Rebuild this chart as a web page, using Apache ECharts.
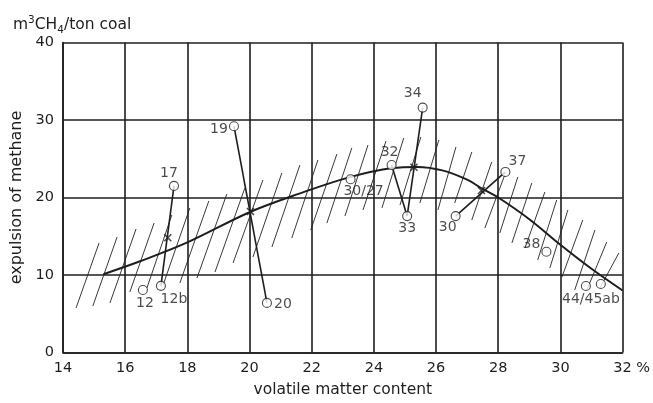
<!DOCTYPE html>
<html>
<head>
<meta charset="utf-8">
<script src="https://cdn.jsdelivr.net/npm/echarts@6/dist/echarts.min.js"></script>
<style>html,body{margin:0;padding:0;background:#fff}#c{width:653px;height:403px}</style>
</head>
<body>
<div id="c"></div>
<script>
// ---- data ----
var xTicks = [14, 16, 18, 20, 22, 24, 26, 28, 30, 32];
var yTicks = [0, 10, 20, 30, 40];

var pointNames = ['12', '12b', '17', '19', '20', '30/27', '32', '33', '34', '30', '37', '38', '44', '45ab'];
var pointX = [16.57, 17.15, 17.57, 19.5, 20.56, 23.25, 24.57, 25.07, 25.57, 26.63, 28.23, 29.55, 30.82, 31.3];
var pointY = [8.06, 8.6, 21.5, 29.2, 6.4, 22.35, 24.2, 17.6, 31.6, 17.6, 23.3, 13.0, 8.58, 8.84];
var pointLabels = ['12', '12b', '17', '19', '20', '30/27', '32', '33', '34', '30', '37', '38', '44/45ab', ''];

// pairs of point names joined by straight lines
var links = [['12b', '17'], ['19', '20'], ['32', '33'], ['33', '34'], ['30', '37']];

var crossX = [17.37, 20.03, 25.29, 27.46];
var crossY = [14.8, 18.2, 23.9, 20.9];

var curveX = [15.3, 16.5, 18, 20, 21.6, 23.2, 24.6, 25.4, 26.2, 27, 27.5, 28, 29, 30, 31, 32];
var curveY = [10.1, 11.8, 14.2, 18.1, 20.5, 22.6, 23.8, 23.95, 23.5, 22.3, 21.1, 20.0, 17.2, 13.9, 10.8, 8.0];

// hatch strokes: [x1, y1, x2, y2]
var hatch = [
  [14.42, 5.74, 15.16, 14.13], [14.96, 6.0, 15.74, 14.9], [15.51, 6.39, 16.35, 15.94],
  [16.15, 7.81, 16.93, 16.71], [16.70, 8.32, 17.50, 17.74], [17.22, 8.71, 18.08, 18.65],
  [17.76, 8.97, 18.69, 19.55], [18.31, 9.61, 19.27, 20.45], [18.89, 10.39, 19.85, 21.23],
  [19.47, 11.55, 20.43, 22.26], [20.11, 12.32, 21.04, 23.16], [20.72, 13.61, 21.62, 24.19],
  [21.36, 14.77, 22.20, 24.84], [21.97, 15.81, 22.81, 25.61], [22.49, 16.71, 23.29, 26.39],
  [23.07, 17.61, 23.81, 26.77], [23.65, 18.39, 24.39, 27.29], [24.26, 18.65, 24.96, 27.68],
  [24.84, 19.03, 25.51, 27.81], [25.48, 19.29, 26.09, 27.42], [26.06, 18.39, 26.64, 26.52],
  [26.60, 19.29, 27.15, 25.87], [27.15, 17.10, 27.79, 24.58], [27.57, 16.06, 28.21, 22.90],
  [28.05, 15.42, 28.63, 22.65], [28.44, 14.13, 29.08, 21.87], [28.86, 13.48, 29.50, 20.71],
  [29.27, 11.94, 29.88, 19.68], [29.66, 10.90, 30.24, 18.39], [30.05, 9.74, 30.72, 17.10],
  [30.46, 8.06, 31.11, 15.81], [30.85, 8.06, 31.49, 14.26], [31.27, 8.32, 31.88, 12.84]
];

// ---- styling (label offsets in px, relative to circle centre) ----
var labelOffsets = {
  '12': [2, 13], '12b': [13, 14], '17': [-5, -13], '19': [-15, 3], '20': [16, 1],
  '30/27': [13, 12], '32': [-2, -13], '33': [0, 12], '34': [-10, -14], '30': [-8, 11],
  '37': [12, -11], '38': [-15, -7], '44': [5, 13], '45ab': [0, 0]
};

var FONT = 'DejaVu Sans, Liberation Sans, sans-serif';
var INK = '#1e1e1e';

function idx(name) { return pointNames.indexOf(name); }

var pointData = pointNames.map(function (n, i) {
  return {
    value: [pointX[i], pointY[i]],
    label: { offset: labelOffsets[n], formatter: pointLabels[i] }
  };
});
var linkData = links.map(function (p) {
  var a = idx(p[0]), b = idx(p[1]);
  return { coords: [[pointX[a], pointY[a]], [pointX[b], pointY[b]]] };
});
var hatchData = hatch.map(function (h) { return { coords: [[h[0], h[1]], [h[2], h[3]]] }; });
var curveData = curveX.map(function (x, i) { return [x, curveY[i]]; });
var crossData = crossX.map(function (x, i) { return [x, crossY[i]]; });

var chart = echarts.init(document.getElementById('c'), null, { renderer: 'canvas' });
chart.setOption({
  animation: false,
  backgroundColor: '#fff',
  title: {
    text: '{n|m}{sup|3}{n|CH}{sub|4}{n|/ton coal}',
    left: 8, top: 9,
    textStyle: {
      fontWeight: 'normal',
      rich: {
        n: { fontSize: 15.5, fontWeight: 'normal', fontFamily: FONT, color: INK, lineHeight: 22, verticalAlign: 'middle' },
        sup: { fontSize: 10.5, fontWeight: 'normal', fontFamily: FONT, color: INK, lineHeight: 22, verticalAlign: 'top', padding: [1, 0, 0, 0] },
        sub: { fontSize: 10.5, fontWeight: 'normal', fontFamily: FONT, color: INK, lineHeight: 22, verticalAlign: 'bottom' }
      }
    }
  },
  grid: { left: 63, right: 30, top: 42.5, bottom: 50.5, containLabel: false },
  xAxis: {
    type: 'value', min: xTicks[0], max: xTicks[xTicks.length - 1], interval: 2,
    name: 'volatile matter content', nameLocation: 'middle', nameGap: 29,
    nameTextStyle: { fontSize: 15.5, fontFamily: FONT, color: INK },
    axisLine: { show: true, lineStyle: { color: INK, width: 1.6 } },
    axisTick: { show: false },
    splitLine: { show: true, lineStyle: { color: INK, width: 1.6 } },
    axisLabel: {
      fontSize: 14.5, fontFamily: FONT, color: INK, margin: 8,
      formatter: function (v) { return v === 32 ? '{p|32 %}' : String(v); },
      rich: { p: { fontSize: 14.5, fontFamily: FONT, color: INK, padding: [0, 0, 0, 18] } }
    }
  },
  yAxis: {
    type: 'value', min: yTicks[0], max: yTicks[yTicks.length - 1], interval: 10,
    name: 'expulsion of methane', nameLocation: 'middle', nameGap: 36,
    nameTextStyle: { fontSize: 16, fontFamily: FONT, color: INK },
    axisLine: { show: true, lineStyle: { color: INK, width: 1.6 } },
    axisTick: { show: false },
    splitLine: { show: true, lineStyle: { color: INK, width: 1.6 } },
    axisLabel: { fontSize: 14.5, fontFamily: FONT, color: INK, margin: 9 }
  },
  series: [
    {
      type: 'lines', coordinateSystem: 'cartesian2d', z: 2, silent: true,
      lineStyle: { color: '#222', width: 0.9, opacity: 1 },
      data: hatchData
    },
    {
      type: 'line', data: curveData, smooth: 0.35, symbol: 'none', z: 3,
      lineStyle: { color: INK, width: 2 }
    },
    {
      type: 'lines', coordinateSystem: 'cartesian2d', z: 4, silent: true,
      lineStyle: { color: INK, width: 1.6, opacity: 1 },
      data: linkData
    },
    {
      type: 'scatter', data: crossData, z: 5,
      symbol: 'path://M0,0L10,10M10,0L0,10', symbolSize: 7,
      itemStyle: { color: 'none', borderColor: INK, borderWidth: 1.6 }
    },
    {
      type: 'scatter', data: pointData, z: 6,
      symbol: 'circle', symbolSize: 9,
      itemStyle: { color: '#fff', borderColor: INK, borderWidth: 1.1 },
      label: {
        show: true, position: 'inside', fontSize: 14, fontFamily: FONT, color: INK
      }
    }
  ]
});
</script>
</body>
</html>
